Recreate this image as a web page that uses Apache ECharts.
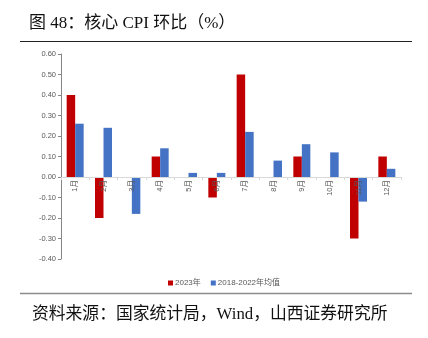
<!DOCTYPE html>
<html>
<head>
<meta charset="utf-8">
<script src="https://cdn.jsdelivr.net/npm/echarts@6/dist/echarts.min.js"></script>
<style>
  html, body { margin: 0; padding: 0; background: #fff; }
  #chart { width: 428px; height: 338px; }
</style>
</head>
<body>
<div id="chart"></div>
<script>
// Monthly core CPI change, month over month (%)
const months = ['1月', '2月', '3月', '4月', '5月', '6月', '7月', '8月', '9月', '10月', '11月', '12月'];
const values2023 = [0.40, -0.20, 0.00, 0.10, 0.00, -0.10, 0.50, 0.00, 0.10, 0.00, -0.30, 0.10];
const valuesAvg = [0.26, 0.24, -0.18, 0.14, 0.02, 0.02, 0.22, 0.08, 0.16, 0.12, -0.12, 0.04];
const seriesNames = ['2023年', '2018-2022年均值'];
const titleText = '图 48：核心 CPI 环比（%）';
const sourceText = '资料来源：国家统计局，Wind，山西证券研究所';

const serifFont = '"Liberation Serif", "Noto Sans CJK SC", serif';
const sansFont = '"Liberation Sans", "Noto Sans CJK SC", sans-serif';

const yMin = -0.4, yMax = 0.6;
const gridTop = 54, gridBottom = 79, chartH = 338;
const plotH = chartH - gridTop - gridBottom;
// shift the category axis (line, ticks and labels) up to the zero line
const zeroShift = plotH * (0 - yMin) / (yMax - yMin);

const chart = echarts.init(document.getElementById('chart'), null, { renderer: 'canvas' });

chart.setOption({
  backgroundColor: '#ffffff',
  animation: false,
  grid: { left: 61, right: 27, top: gridTop, bottom: gridBottom, containLabel: false },
  legend: {
    data: seriesNames,
    left: 163,
    top: 274,
    icon: 'rect',
    itemWidth: 5,
    itemHeight: 5,
    itemGap: 10,
    textStyle: { fontSize: 8, color: '#595959', fontFamily: sansFont, padding: [0, 0, 0, -3] }
  },
  xAxis: {
    type: 'category',
    data: months,
    offset: -zeroShift,
    z: 5,
    axisLine: { onZero: false, lineStyle: { color: '#D9D9D9', width: 1 } },
    axisTick: { show: true, length: 3, lineStyle: { color: '#D9D9D9' } },
    axisLabel: { rotate: 90, fontSize: 7.5, color: '#595959', margin: 3, fontFamily: sansFont }
  },
  yAxis: {
    type: 'value',
    min: yMin,
    max: yMax,
    interval: 0.1,
    axisLine: { show: true, lineStyle: { color: '#868686', width: 1 } },
    axisTick: { show: true, length: 3, lineStyle: { color: '#868686' } },
    splitLine: { show: false },
    axisLabel: {
      fontSize: 7.5,
      color: '#595959',
      margin: 5,
      fontFamily: sansFont,
      formatter: v => v.toFixed(2)
    }
  },
  series: [
    {
      name: seriesNames[0],
      type: 'bar',
      data: values2023,
      barWidth: 8.5,
      barGap: '0%',
      itemStyle: { color: '#C00000' }
    },
    {
      name: seriesNames[1],
      type: 'bar',
      data: valuesAvg,
      barWidth: 8.5,
      itemStyle: { color: '#4472C4' }
    }
  ],
  graphic: [
    {
      type: 'text',
      left: 29,
      top: 15,
      style: { text: titleText, font: '17px ' + serifFont, fill: '#111111' }
    },
    {
      type: 'line',
      shape: { x1: 20, y1: 41.5, x2: 412, y2: 41.5 },
      style: { stroke: '#222222', lineWidth: 1.2 }
    },
    {
      type: 'line',
      shape: { x1: 20, y1: 293.5, x2: 412, y2: 293.5 },
      style: { stroke: '#8c8c8c', lineWidth: 1.5 }
    },
    {
      type: 'text',
      left: 32,
      top: 306,
      style: { text: sourceText, font: '16.8px ' + serifFont, fill: '#111111' }
    }
  ]
});
</script>
</body>
</html>
